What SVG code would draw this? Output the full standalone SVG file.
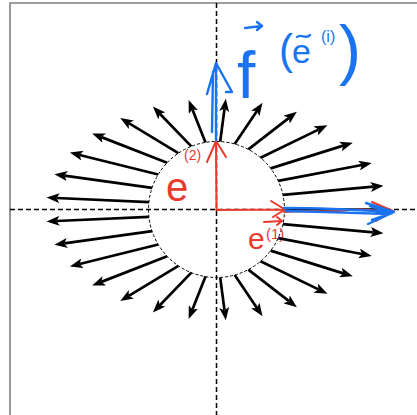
<svg xmlns="http://www.w3.org/2000/svg" width="417" height="415" viewBox="0 0 417 415">
<style>
.frame{fill:none;stroke:#7f7f7f;stroke-width:1.6}
.axis{fill:none;stroke:#000;stroke-width:1.5;stroke-dasharray:5 3}
.circ{fill:none;stroke:#000;stroke-width:1;stroke-dasharray:3 2}
.arr{stroke:#000;stroke-width:2.7;fill:none;marker-end:url(#head)}
.red{fill:none;stroke:#ea3a2b;stroke-width:2;stroke-linecap:round;stroke-linejoin:round}
.blue{fill:none;stroke:#1a73f0;stroke-width:2.4;stroke-linecap:round;stroke-linejoin:round}
.bt{fill:#1a73f0;font-family:"Liberation Sans",Arial,sans-serif}
.rt{fill:#ea3a2b;font-family:"Liberation Sans",Arial,sans-serif}
</style>
<defs>
<marker id="head" viewBox="0 0 13 10" refX="3" refY="5" markerWidth="13" markerHeight="10" markerUnits="userSpaceOnUse" orient="auto">
<path d="M0,0 L13,5 L0,10 L3,5 z" fill="#000"/>
</marker>
</defs>
<rect width="417" height="415" fill="#fff"/>
<path class="frame" d="M10,415 L10,3 L417,3"/>
<g id="axes">
<line class="axis" x1="10" y1="209.5" x2="417" y2="209.5"/>
<line class="axis" x1="216.5" y1="3" x2="216.5" y2="415"/>
</g>
<g id="circle"><circle class="circ" cx="216.5" cy="209.5" r="68"/></g>
<g id="connectors">
<line class="arr" x1="284.5" y1="209.5" x2="377.5" y2="209.5"/>
</g>
<g id="annot-red">
<path class="red" d="M216.5,209.5 L216,141 M207,162 L216,141 L226,157"/>
<path class="red" d="M216.5,210 L284,209.5 M271,201 L285,209.5 L273,217"/>
<path class="red" d="M284,212 C310,210 330,213 350,210 C365,208 380,212 393,212 M372,202 L393,211 L376,221"/>
<text class="rt" x="166" y="201" font-size="40">e</text>
<text class="rt" x="184" y="160" font-size="14">(2)</text>
<text class="rt" x="248" y="249" font-size="30">e</text>
<text class="rt" x="266" y="239" font-size="15">(1)</text>
<path class="red" d="M264,222 L282,221 M277,217 L282,221 L277,225"/>
</g>
<g id="annot-blue">
<path class="blue" d="M216,140 L216,63 M212,132 L213,72 M207,94 L216,63 L232,92 L226,92" />
<path class="blue" stroke-width="3.5" d="M284,208 C320,208 360,210 393,212 M286,211 C320,212 360,213 390,214 M366,203 L394,212 L368,224 M370,206 L392,213 L372,220"/>
<text class="bt" x="237" y="98" font-size="66">f</text>
<path class="blue" d="M245,28 L262,26 M257,22 L262,26 L257,30"/>
<text class="bt" x="279" y="64" font-size="42">(</text>
<text class="bt" x="292" y="63" font-size="34">e</text>
<path class="blue" d="M297,37 C301,33 306,40 310,35"/>
<text class="bt" x="321" y="42" font-size="16">(i)</text>
<text class="bt" x="339" y="72" font-size="66">)</text>
</g>
<g id="connectors-rest">
<line class="arr" x1="282.91" y1="224.12" x2="373.57" y2="232.34"/>
<line class="arr" x1="278.21" y1="238.05" x2="361.95" y2="254.01"/>
<line class="arr" x1="270.63" y1="250.65" x2="343.25" y2="273.38"/>
<line class="arr" x1="260.52" y1="261.33" x2="318.45" y2="289.41"/>
<line class="arr" x1="248.35" y1="269.58" x2="289.00" y2="301.17"/>
<line class="arr" x1="234.69" y1="275.02" x2="256.95" y2="308.03"/>
<line class="arr" x1="220.18" y1="277.40" x2="224.53" y2="310.42"/>
<line class="arr" x1="205.50" y1="276.60" x2="192.33" y2="309.69"/>
<line class="arr" x1="191.33" y1="272.67" x2="159.84" y2="305.22"/>
<line class="arr" x1="178.34" y1="265.78" x2="128.79" y2="295.88"/>
<line class="arr" x1="167.13" y1="256.26" x2="101.46" y2="281.88"/>
<line class="arr" x1="158.23" y1="244.56" x2="79.57" y2="264.05"/>
<line class="arr" x1="152.06" y1="231.21" x2="64.31" y2="243.38"/>
<line class="arr" x1="148.90" y1="216.85" x2="56.49" y2="220.99"/>
<line class="arr" x1="148.90" y1="202.15" x2="56.49" y2="198.01"/>
<line class="arr" x1="152.06" y1="187.79" x2="64.31" y2="175.62"/>
<line class="arr" x1="158.23" y1="174.44" x2="79.57" y2="154.95"/>
<line class="arr" x1="167.13" y1="162.74" x2="101.46" y2="137.12"/>
<line class="arr" x1="178.34" y1="153.22" x2="128.79" y2="123.12"/>
<line class="arr" x1="191.33" y1="146.33" x2="159.84" y2="113.78"/>
<line class="arr" x1="205.50" y1="142.40" x2="192.33" y2="109.31"/>
<line class="arr" x1="220.18" y1="141.60" x2="224.53" y2="108.58"/>
<line class="arr" x1="234.69" y1="143.98" x2="256.95" y2="110.97"/>
<line class="arr" x1="248.35" y1="149.42" x2="289.00" y2="117.83"/>
<line class="arr" x1="260.52" y1="157.67" x2="318.45" y2="129.59"/>
<line class="arr" x1="270.63" y1="168.35" x2="343.25" y2="145.62"/>
<line class="arr" x1="278.21" y1="180.95" x2="361.95" y2="164.99"/>
<line class="arr" x1="282.91" y1="194.88" x2="373.57" y2="186.66"/>
</g>
</svg>
